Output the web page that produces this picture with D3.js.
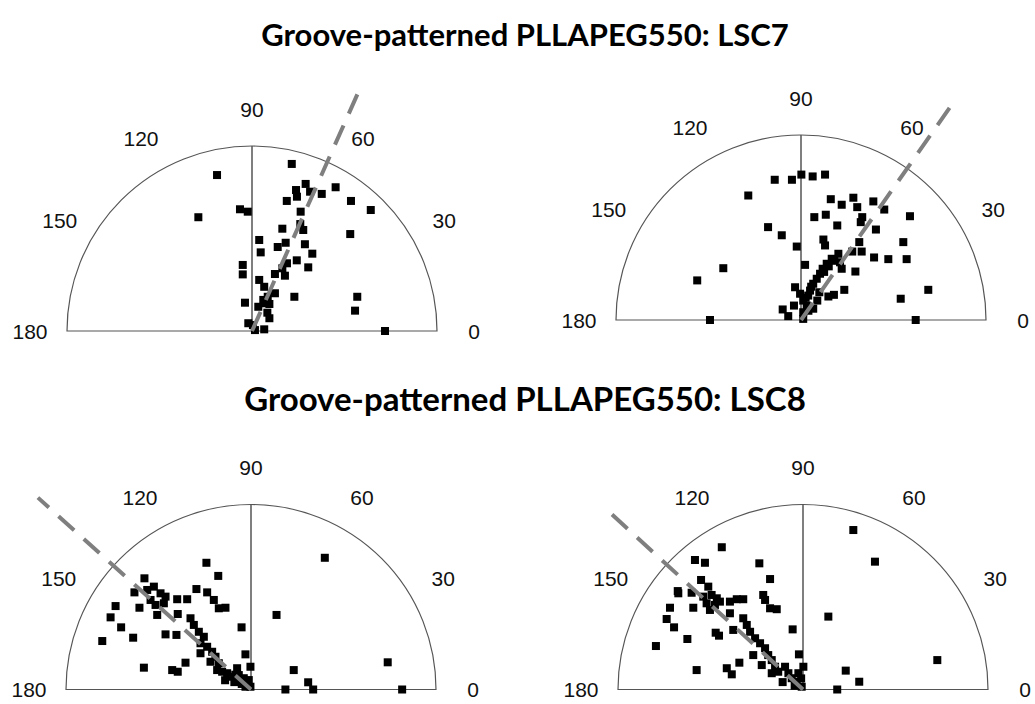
<!DOCTYPE html>
<html>
<head>
<meta charset="utf-8">
<script src="https://cdn.jsdelivr.net/npm/d3@7"></script>
<style>
  body { margin: 0; background: #fff; }
  svg { display: block; }
  .title { font-family: Lato, "Open Sans", sans-serif; font-weight: 700; fill: #000; }
  .tick { font-family: "Liberation Sans", Arial, sans-serif; fill: #111; }
</style>
</head>
<body>
<svg id="chart" width="1035" height="704"></svg>
<script>
// cell displacement components, scaled so that the outer circle = 100
var lsc7a = [[21.5,90.3],[29.0,79.5],[23.8,76.2],[31.4,75.3],[24.3,72.6],[18.8,70.3],[37.7,74.1],[45.2,77.7],[53.5,70.3],[64.2,65.4],
  [-6.5,65.8],[-2.3,64.5],[26.3,64.5],[16.4,55.3],[26.1,57.8],[27.7,54.6],[53.1,52.4],[3.9,49.2],[4.7,42.5],[13.9,45.4],
  [18.2,47.7],[28.6,46.9],[32.6,41.8],[24.2,38.2],[18.9,36.6],[16.4,33.9],[30.4,34.4],[-5.0,35.7],[-5.0,30.6],[17.8,29.9],
  [12.4,30.8],[3.9,27.6],[6.6,23.9],[12.4,20.4],[8.5,18.5],[22.9,18.5],[56.9,18.5],[-3.8,15.3],[6.6,15.0],[3.4,13.1],
  [8.3,9.9],[55.7,11.0],[9.4,6.9],[-2.0,4.2],[6.6,0.9],[1.6,0.5],[71.9,0],[-18.9,84.3],[-29.0,61.5],[6.1,16.8],
  [9.4,14.6],[0.5,3.2]];

var lsc7b = [[-14.2,75.8],[-4.9,75.8],[0.2,78.6],[6.3,77.6],[13.0,78.6],[16.1,65.3],[22.0,62.3],[28.3,66.1],[30.4,61.0],[39.1,64.1],
  [45.0,59.7],[7.2,55.6],[13.4,56.9],[19.6,51.1],[33.1,55.6],[32.3,52.9],[40.5,48.9],[58.9,56.1],[-17.8,50.2],[-10.4,45.8],
  [12.1,43.5],[13.0,40.3],[-2.3,39.7],[31.5,42.1],[27.7,37.0],[32.8,37.0],[55.3,42.1],[39.5,33.8],[47.2,32.9],[57.1,32.9],
  [20.2,35.8],[2.2,29.8],[29.4,26.2],[16.6,33.1],[13.9,30.4],[11.7,27.7],[10.3,25.0],[8.5,22.3],[6.6,19.6],[4.9,15.9],
  [3.9,13.2],[1.2,10.5],[3.1,7.8],[1.2,4.2],[1.2,0.6],[21.1,31.2],[22.0,27.7],[-3.2,17.7],[-0.5,14.2],[-3.8,7.8],
  [-9.9,5.7],[-6.9,2.1],[14.8,12.7],[17.8,13.6],[23.4,16.3],[8.8,10.5],[6.6,6.1],[53.9,11.5],[68.8,16.3],[62.0,0],
  [9.9,15.0],[-28.5,67.3],[-42.0,28.0],[-56.1,21.4],[-49.2,0],[18.0,32.0],[15.0,29.0],[12.5,26.0],[5.5,18.0],[2.5,12.0],
  [4.0,5.0]];

var lsc8a = [[-24.1,68.5],[-17.7,61.4],[-57.6,60.1],[-29.5,54.3],[-23.7,52.5],[-63.0,52.5],[-52.5,55.6],[-48.9,52.0],[-46.2,50.2],[-54.3,48.4],
  [-51.6,45.7],[-47.1,46.6],[-50.7,40.3],[-39.9,48.8],[-34.5,48.8],[-20.1,48.4],[-17.4,43.9],[-13.8,44.2],[-73.2,45.1],[-60.3,44.2],
  [-75.9,39.0],[-70.2,33.6],[-80.4,26.2],[-63.7,28.0],[-39.6,40.8],[-32.7,38.5],[-46.2,29.8],[-40.3,29.5],[-5.1,33.6],[-30.9,34.9],
  [-28.2,31.2],[-25.5,28.5],[-27.3,25.0],[-23.7,23.1],[-21.0,20.4],[-27.3,19.6],[-19.2,17.7],[-21.9,15.0],[-17.4,14.2],[-18.3,10.5],
  [-15.6,9.6],[-12.9,8.8],[-11.1,6.9],[-7.5,11.5],[-6.6,7.8],[-3.9,6.1],[-1.2,5.1],[-0.3,1.5],[-3.0,1.5],[-0.3,12.3],
  [-3.0,19.0],[-57.9,11.8],[-42.6,10.5],[-39.6,9.6],[-35.4,14.5],[39.9,71.2],[13.8,40.3],[73.9,14.7],[23.1,10.5],[30.9,3.9],
  [33.6,0],[18.6,0],[81.7,0],[-56.1,53.8],[-9.0,4.0],[-14.0,5.0],[-5.0,3.0],[-8.5,8.0]];

var lsc8b = [[-43.9,76.9],[-58.4,70.0],[-53.0,68.5],[-23.6,68.2],[-17.8,59.7],[-55.1,59.2],[-67.7,53.2],[-67.4,52.0],[-60.2,52.3],[-51.2,55.6],
  [-53.9,50.2],[-49.4,51.1],[-46.6,49.3],[-52.1,46.6],[-47.6,45.7],[-50.3,43.0],[-44.9,47.5],[-39.5,47.5],[-35.8,48.8],[-32.3,48.8],
  [-21.5,51.1],[-20.5,48.4],[-17.8,43.9],[-14.2,43.4],[-71.9,44.2],[-59.3,44.2],[-73.7,38.1],[-69.7,33.6],[-79.5,23.5],[-62.5,27.3],
  [-47.2,30.7],[-45.4,29.1],[-39.5,41.2],[-37.7,32.2],[-5.6,32.5],[-32.3,38.5],[-30.4,34.9],[-28.6,31.2],[-25.9,27.7],[-23.2,25.0],
  [-20.5,22.3],[-26.9,18.6],[-18.8,18.6],[-16.9,15.9],[-22.3,13.2],[-15.1,12.3],[-16.9,8.8],[-13.4,9.6],[-9.7,12.3],[-7.9,8.8],
  [-6.1,6.1],[-3.4,4.2],[-0.7,1.5],[-2.5,8.8],[0.2,12.3],[-2.2,19.0],[-57.5,10.5],[-41.2,11.5],[-38.5,8.2],[-34.4,14.5],
  [27.2,86.2],[38.9,69.1],[13.7,39.4],[72.6,15.9],[23.1,10.2],[30.4,4.2],[18.5,0],[-11.0,4.0],[-4.5,2.0],[-1.0,6.0]];

// mean migration direction (deg) and drawn length of the dashed line
var meanAngle = [66, 55, 138, 137.5];
var meanLength = [144, 141, 155, 146];

var angleTicks = [0, 30, 60, 90, 120, 150, 180];
var titles = ["Groove-patterned PLLAPEG550: LSC7", "Groove-patterned PLLAPEG550: LSC8"];
var titleSize = [31, 33];

var R = 185;
var panels = [
  {data: lsc7a, cx: 252, cy: 331},
  {data: lsc7b, cx: 801, cy: 320},
  {data: lsc8a, cx: 251, cy: 689.5},
  {data: lsc8b, cx: 803, cy: 689.5}
];

var svg = d3.select("#chart");

var r = d3.scaleLinear().domain([0, 100]).range([0, R]);
var toRad = d3.scaleLinear().domain([0, 180]).range([0, Math.PI]);

svg.selectAll("text.title")
  .data(titles)
  .enter()
  .append("text")
  .attr("class", "title")
  .attr("x", 525)
  .attr("y", function(d, i) { return i === 0 ? 46 : 411; })
  .attr("text-anchor", "middle")
  .attr("font-size", function(d, i) { return titleSize[i]; })
  .text(function(d) { return d; });

var halfCircle = d3.arc()
  .innerRadius(0)
  .outerRadius(R)
  .startAngle(-Math.PI / 2)
  .endAngle(Math.PI / 2);

panels.forEach(function(p, i) {
  var g = svg.append("g")
      .attr("transform", "translate(" + p.cx + "," + p.cy + ")");

  g.append("path")
    .attr("d", halfCircle())
    .attr("fill", "none")
    .attr("stroke", "#555")
    .attr("stroke-width", 1.2);

  // 90 degree axis
  g.append("line")
    .attr("x1", 0).attr("y1", 0)
    .attr("x2", 0).attr("y2", -r(100))
    .attr("stroke", "#555")
    .attr("stroke-width", 1.5);

  g.selectAll("text.tick")
    .data(angleTicks)
    .enter()
    .append("text")
    .attr("class", "tick")
    .attr("x", function(d) { return (R + 37) * Math.cos(toRad(d)); })
    .attr("y", function(d) { return -(R + 37) * Math.sin(toRad(d)); })
    .attr("text-anchor", "middle")
    .attr("dominant-baseline", "central")
    .attr("font-size", 21)
    .text(function(d) { return d; });

  g.selectAll("rect.cell")
    .data(p.data)
    .enter()
    .append("rect")
    .attr("class", "cell")
    .attr("x", function(d) { return r(d[0]) - 4; })
    .attr("y", function(d) { return -r(d[1]) - 4; })
    .attr("width", 8)
    .attr("height", 8)
    .attr("fill", "#000");

  var a = toRad(meanAngle[i]);
  g.append("line")
    .attr("x1", 0).attr("y1", 0)
    .attr("x2", r(meanLength[i]) * Math.cos(a))
    .attr("y2", -r(meanLength[i]) * Math.sin(a))
    .attr("stroke", "#7f7f7f")
    .attr("stroke-width", 4)
    .attr("stroke-dasharray", "21,13");
});
</script>
</body>
</html>
